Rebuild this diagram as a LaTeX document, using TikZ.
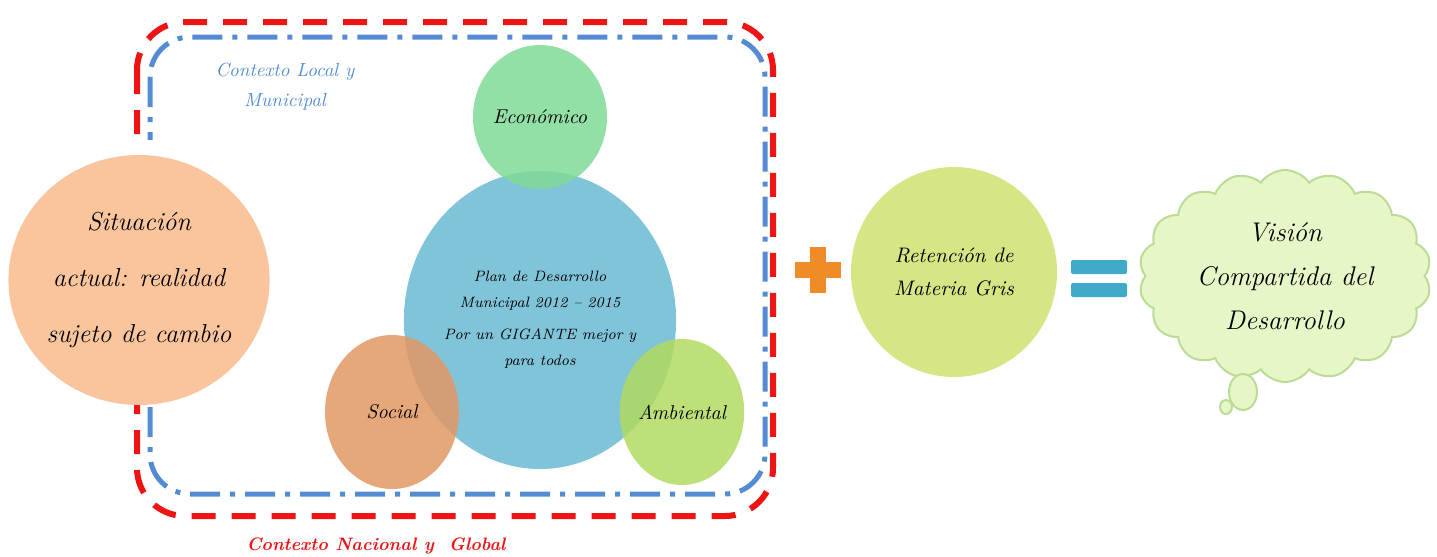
\documentclass[tikz,border=0pt]{standalone}
\usepackage{tikz}
\usetikzlibrary{shapes.geometric,shapes.symbols}
\definecolor{peach}{RGB}{250,196,156}
\definecolor{ecogreen}{RGB}{128,218,152}
\definecolor{planblue}{RGB}{128,196,218}
\definecolor{socorange}{RGB}{226,152,100}
\definecolor{ambgreen}{RGB}{178,218,96}
\definecolor{retyellow}{RGB}{214,230,132}
\definecolor{cloudfill}{RGB}{230,246,198}
\definecolor{cloudline}{RGB}{188,220,150}
\definecolor{ctxred}{RGB}{238,20,20}
\definecolor{ctxblue}{RGB}{84,140,212}
\definecolor{plusorange}{RGB}{240,140,40}
\definecolor{eqteal}{RGB}{64,170,200}

\begin{document}
\begin{tikzpicture}[x=.5pt,y=-.5pt,
  bubble/.style={ellipse,inner sep=0pt,align=center},
  small/.style={bubble,fill opacity=.85,text opacity=1,font=\itshape\fontsize{10}{12}\selectfont}]
\useasboundingbox (0,0) rectangle (1437,557);
% context frames
\draw[ctxred,line width=3pt,dash pattern=on 12pt off 8pt,rounded corners=24pt] (137,22) rectangle (773,516);
\draw[ctxblue,line width=2.5pt,dash pattern=on 15pt off 5pt on 2.5pt off 5pt,rounded corners=20pt] (150,37) rectangle (765,494);
\fill[white] (0,140) rectangle (268,405);
\node[text=ctxblue,font=\itshape\fontsize{9.5}{15}\selectfont,align=center] (local) at (285,87) {Contexto Local y\\Municipal};
\node[text=ctxred,font=\itshape\bfseries\fontsize{9}{12}\selectfont] (nacional) at (376,546) {Contexto Nacional y\ \ Global};
% circles
\node[bubble,fill=peach,minimum width=124pt,minimum height=125pt,font=\itshape\fontsize{13}{28}\selectfont] (sit) at (139,280) {Situación\\actual: realidad\\sujeto de cambio};
\node[bubble,fill=planblue,minimum width=133pt,minimum height=149pt,font=\itshape\fontsize{7.5}{13}\selectfont] (plan) at (540,320) {Plan de Desarrollo\\Municipal 2012 -- 2015\\[3pt]Por un GIGANTE mejor y\\para todos};
\node[small,fill=ecogreen,minimum width=67pt,minimum height=72pt] (eco) at (540,117) {Económico};
\node[small,fill=socorange,minimum width=67pt,minimum height=77pt] (soc) at (392,412) {Social};
\node[small,fill=ambgreen,minimum width=61pt,minimum height=73pt] (amb) at (682,412) {Ambiental};
% plus
\fill[plusorange] (795,262) rectangle (841,278);
\fill[plusorange] (810,247) rectangle (826,293);
\node[bubble,fill=retyellow,minimum width=103pt,minimum height=105pt,font=\itshape\fontsize{10.5}{16.5}\selectfont] (ret) at (954,272) {Retención de\\Materia Gris};
% equals
\fill[eqteal,rounded corners=1pt] (1071,260) rectangle (1127,274);
\fill[eqteal,rounded corners=1pt] (1071,283) rectangle (1127,297);
\node[cloud,cloud puffs=18,cloud puff arc=110,aspect=1.45,fill=cloudfill,draw=cloudline,line width=1pt,inner sep=0pt,minimum width=146pt,minimum height=106pt,align=center,font=\itshape\fontsize{13.5}{22}\selectfont] (vision) at (1285,276) {Visión\\Compartida del\\Desarrollo};
\node[ellipse,fill=cloudfill,draw=cloudline,line width=1pt,minimum width=14pt,minimum height=18pt] (tail1) at (1243,392) {};
\node[ellipse,fill=cloudfill,draw=cloudline,line width=1pt,minimum width=6pt,minimum height=7pt,inner sep=0pt] (tail2) at (1226,407) {};
\end{tikzpicture}
\end{document}
